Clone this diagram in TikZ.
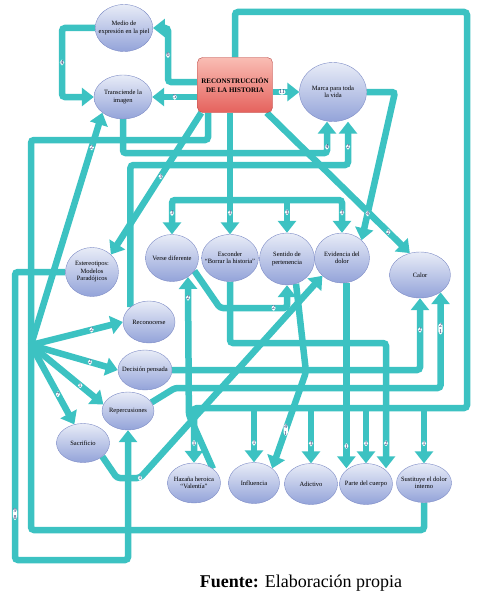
\documentclass[tikz,border=0pt]{standalone}
\usepackage{fontspec}
\setmainfont{Liberation Serif}
\usetikzlibrary{positioning,shapes.geometric,arrows.meta,backgrounds,calc}
\definecolor{linkTeal}{HTML}{3CC2C2}
\definecolor{ideaTop}{HTML}{E8ECF7}
\definecolor{ideaBot}{HTML}{93A3D9}
\definecolor{ideaEdge}{HTML}{7E8CC6}
\definecolor{coreTop}{HTML}{F9BDB4}
\definecolor{coreBot}{HTML}{E5625D}
\definecolor{coreEdge}{HTML}{B94A48}
\definecolor{numText}{HTML}{1F2A6B}

\begin{document}
\begin{tikzpicture}[
    x=1pt, y=-1pt,
    conn/.style   = {draw=linkTeal, line width=6.5pt, rounded corners=3pt},
    arr/.style    = {conn, -{Triangle[width=18pt,length=12pt]}},
    idea/.style   = {ellipse, draw=ideaEdge, line width=0.4pt, top color=ideaTop, bottom color=ideaBot,
                     font=\fontsize{6.5}{7.5}\selectfont, align=center, inner sep=-5pt},
    core/.style   = {rectangle, rounded corners=5pt, draw=coreEdge, line width=0.4pt, top color=coreTop,
                     bottom color=coreBot, font=\bfseries\fontsize{7}{9}\selectfont, align=center,
                     minimum width=75pt, minimum height=55pt},
    numlbl/.style = {fill=white, inner sep=0.6pt, font=\fontsize{6}{6.5}\selectfont, text=numText, align=center},
    caption/.style = {font=\fontsize{18}{20}\selectfont, anchor=base}
  ]
  \useasboundingbox (0,0) rectangle (487,594);

  %% core box and top row
  \node[core] (recon) at (235,85) {RECONSTRUCCIÓN\\DE LA HISTORIA};
  \node[idea, minimum width=56pt, minimum height=47pt] (medio)  at (124,28) {Medio de\\expresión en la piel};
  \node[idea, minimum width=58pt, minimum height=44pt] (transc) at (123,97) {Transciende la\\imagen};
  \node[idea, minimum width=67pt, minimum height=59pt] (marca)  at (333,92) {Marca para toda\\la vida};

  %% middle row
  \node[idea, minimum width=53pt, minimum height=49pt] (ester)   at (92,272)  {Estereotipos:\\Modelos\\Paradójicos};
  \node[idea, minimum width=53pt, minimum height=47pt] (verse)   at (172,258) {Verse diferente};
  \node[idea, minimum width=54pt, minimum height=47pt] (escond)  at (230,258) {Esconder\\``Borrar la historia''};
  \node[idea, minimum width=55pt, minimum height=52pt] (sentido) at (287,259) {Sentido de\\pertenencia};
  \node[idea, minimum width=55pt, minimum height=50pt] (evid)    at (342,258) {Evidencia del\\dolor};
  \node[idea, minimum width=61pt, minimum height=46pt] (calor)   at (420,275) {Calor};

  %% left column
  \node[idea, minimum width=52pt, minimum height=42pt] (recono) at (149,322) {Reconocerse};
  \node[idea, minimum width=54pt, minimum height=40pt] (decis)  at (145,370) {Decisión pensada};
  \node[idea, minimum width=52pt, minimum height=38pt] (reperc) at (128,411) {Repercusiones};
  \node[idea, minimum width=53pt, minimum height=39pt] (sacri)  at (83,443)  {Sacrificio};

  %% bottom row
  \node[idea, minimum width=53pt, minimum height=40pt] (hazana) at (194,483) {Hazaña heroica\\``Valentía''};
  \node[idea, minimum width=51pt, minimum height=41pt] (influ)  at (254,483) {Influencia};
  \node[idea, minimum width=53pt, minimum height=41pt] (adict)  at (311,484) {Adictivo};
  \node[idea, minimum width=53pt, minimum height=41pt] (parte)  at (366,484) {Parte del cuerpo};
  \node[idea, minimum width=55pt, minimum height=39pt] (sustit) at (424,483) {Sustituye el dolor\\interno};

  \node[caption] (fuente) at (301,587) {\textbf{Fuente:} Elaboración propia};

  \coordinate (fan)    at (31,345);
  \coordinate (rowT)   at (0,200);
  \coordinate (loopB)  at (0,408);
  \coordinate (marcaL) at ([xshift=-6pt]marca.south);
  \coordinate (marcaR) at ([xshift=15pt]marca.south);

  \begin{scope}[on background layer]
  %% out of the core box
  \draw[arr] (recon.west |- transc.east) -- node[numlbl]{5} (transc.east);
  \draw[arr] ([yshift=3pt]recon.west) -| node[numlbl, pos=0.75]{6} (168,28) -- (medio.east);
  \draw[arr] (recon.east |- marca.west) -- node[numlbl, pos=0.35]{11} (marca.west);
  \draw[arr] ([xshift=4pt]recon.south west) -- node[numlbl, pos=0.45]{3} (ester.north east);
  \draw[arr] ([xshift=-6pt]recon.south east) -- node[numlbl, pos=0.85]{2} (calor.115);

  %% rail to the four middle ideas
  \draw[conn] (recon.south -| escond.north) -- (escond.north |- rowT);
  \draw[arr] (escond.north |- rowT) -| node[numlbl, pos=0.69]{3} (verse.north);
  \draw[arr] (escond.north |- rowT) -| node[numlbl, pos=0.69]{3} (evid.north);
  \draw[arr] (escond.north |- rowT) -- node[numlbl, pos=0.37]{3} (escond.north);
  \draw[arr] (sentido.north |- rowT) -- node[numlbl, pos=0.37]{3} (sentido.north);

  %% big loop over the top to the bottom row
  \draw[arr] (recon.north) |- (467,12) |- (hazana.north |- loopB) -- node[numlbl, pos=0.64]{1} (hazana.north);
  \draw[arr] (influ.north |- loopB) -- node[numlbl, pos=0.64]{1} (influ.north);
  \draw[arr] (adict.north |- loopB) -- node[numlbl, pos=0.64]{3} (adict.north);
  \draw[arr] (parte.north |- loopB) -- node[numlbl, pos=0.64]{1} (parte.north);
  \draw[arr] (sustit.north |- loopB) -- node[numlbl, pos=0.64]{1} (sustit.north);

  %% top left
  \draw[arr] (medio.west) -| node[numlbl, pos=0.75]{4} (62,97) -- (transc.west);
  \draw[arr] (transc.south) -- ++(0,34) -| node[numlbl, pos=0.6]{4} (marcaL);
  \draw[arr] (recono.north west) -- ++(0,-142) -| node[numlbl, pos=0.71]{2} (marcaR);
  \draw[arr] (marca.east) -- (395,92) -- node[numlbl, pos=0.82]{4} (evid.north east);

  %% fan on the left
  \draw[conn] ([xshift=-27pt]recon.south) |- (31,140) -- (fan);
  \draw[conn] (sustit.south) |- (31,530) -- (fan);
  \draw[arr] (fan) -- node[numlbl, pos=0.85]{2} (transc.south west);
  \draw[arr] (fan) -- node[numlbl, pos=0.66]{2} (recono.west);
  \draw[arr] (fan) -- node[numlbl, pos=0.68]{2} (decis.west);
  \draw[arr] (fan) -- node[numlbl, pos=0.68]{1} (reperc.165);
  \draw[arr] (fan) -- node[numlbl, pos=0.62]{7} (sacri.115);
  \draw[arr] (ester.west) -| node[numlbl, pos=0.92]{9\\8} (15,560) -| (reperc.south);

  %% crossings in the middle
  \draw[arr] (sacri.-35) -- (117,478) -- (140,478) node[numlbl]{1} -- (evid.south west);
  \draw[arr] (hazana.north east) -- ++(-24,-54) -- node[numlbl, pos=0.85]{2} (verse.-50);
  \draw[arr] (verse.-30) -- (220,308) -| node[numlbl, pos=0.4]{2} (sentido.south);
  \draw[arr] (sentido.-70) -- (306,372) -- node[numlbl, pos=0.6]{4\\1} (influ.north east);
  \draw[arr] (evid.-80) -- node[numlbl, pos=0.88]{1} ($(evid.-80 |- parte.north)+(0,5)$);
  \draw[arr] (escond.south) |- (386,343) -- node[numlbl, pos=0.8]{2} ($(parte.north)+(20,5)$);
  \draw[arr] (decis.east) -| node[numlbl, pos=0.78]{2} (calor.south);
  \draw[arr] (reperc.20) -- (175,388) -| node[numlbl, pos=0.81]{2\\1} (calor.-40);
  \end{scope}
\end{tikzpicture}
\end{document}
